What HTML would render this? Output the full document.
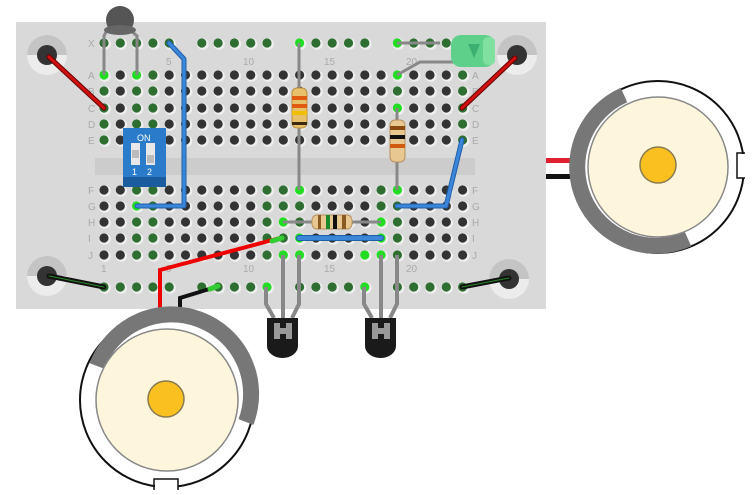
<!DOCTYPE html>
<html><head><meta charset="utf-8"><style>
html,body{margin:0;padding:0;background:#fff;width:756px;height:495px;overflow:hidden}
svg{display:block}
text{font-family:"Liberation Sans",sans-serif;fill:#aaa;font-size:10px}
</style></head><body>
<svg id="s" width="756" height="495" viewBox="0 0 756 495" xmlns="http://www.w3.org/2000/svg">
<rect x="16" y="22" width="530" height="287" fill="#d9d9d9"/>
<rect x="95" y="158" width="380" height="17" fill="#cccccc"/>
<g id="dots"></g>
<g>
<text x="88" y="47">X</text>
<text x="88" y="79">A</text><text x="88" y="95">B</text><text x="88" y="112">C</text><text x="88" y="128">D</text><text x="88" y="144">E</text>
<text x="88" y="194">F</text><text x="88" y="210">G</text><text x="88" y="226">H</text><text x="88" y="242">I</text><text x="88" y="259">J</text>
<text x="472" y="79">A</text><text x="472" y="95">B</text><text x="472" y="112">C</text><text x="472" y="128">D</text><text x="472" y="144">E</text>
<text x="472" y="194">F</text><text x="472" y="210">G</text><text x="472" y="226">H</text><text x="472" y="242">I</text><text x="472" y="259">J</text>
<text x="166" y="65">5</text><text x="243" y="65">10</text><text x="324" y="65">15</text><text x="406" y="65">20</text>
<text x="101" y="272">1</text><text x="166" y="272">5</text><text x="243" y="272">10</text><text x="324" y="272">15</text><text x="406" y="272">20</text>
</g>
<g>
<circle cx="47" cy="55" r="20" fill="#ececec"/><path d="M27 55 A20 20 0 0 1 67 55Z" fill="#c4c4c4"/><circle cx="47" cy="55" r="10" fill="#333"/>
<circle cx="47" cy="276" r="20" fill="#ececec"/><path d="M27 276 A20 20 0 0 1 67 276Z" fill="#c4c4c4"/><circle cx="47" cy="276" r="10" fill="#333"/>
<circle cx="517" cy="55" r="20" fill="#ececec"/><path d="M497 55 A20 20 0 0 1 537 55Z" fill="#c4c4c4"/><circle cx="517" cy="55" r="10" fill="#333"/>
<circle cx="509" cy="279" r="20" fill="#ececec"/><path d="M489 279 A20 20 0 0 1 529 279Z" fill="#c4c4c4"/><circle cx="509" cy="279" r="10" fill="#333"/>
</g>
<g stroke-linecap="round" fill="none">
<line x1="49" y1="57" x2="104" y2="108" stroke="#600" stroke-width="5"/><line x1="49" y1="57" x2="104" y2="108" stroke="#d01010" stroke-width="3"/>
<line x1="515" y1="58" x2="462" y2="108" stroke="#600" stroke-width="5"/><line x1="515" y1="58" x2="462" y2="108" stroke="#d01010" stroke-width="3"/>
<line x1="49" y1="276" x2="104" y2="287" stroke="#111" stroke-width="5"/><line x1="49" y1="276" x2="104" y2="287" stroke="#2a8a2a" stroke-width="1"/>
<line x1="509" y1="278" x2="462" y2="287" stroke="#111" stroke-width="5"/><line x1="509" y1="278" x2="462" y2="287" stroke="#2a8a2a" stroke-width="1"/>
<polyline points="169,43 184,59 184,206 137,206" stroke="#1f5faa" stroke-width="5" stroke-linejoin="round"/>
<polyline points="169,43 184,59 184,206 137,206" stroke="#3c86da" stroke-width="3" stroke-linejoin="round"/>
<polyline points="462,140 446,206 397,206" stroke="#1f5faa" stroke-width="5" stroke-linejoin="round"/>
<polyline points="462,140 446,206 397,206" stroke="#3c86da" stroke-width="3" stroke-linejoin="round"/>
<line x1="299" y1="238" x2="381" y2="238" stroke="#1f5faa" stroke-width="6"/><line x1="299" y1="238" x2="381" y2="238" stroke="#3c86da" stroke-width="4"/>
</g>
<g stroke="#888" stroke-width="3" fill="none">
<path d="M107 30 L104 36 L104 75"/><path d="M130 30 L137 36 L137 75"/>
</g>
<ellipse cx="120" cy="20" rx="14" ry="14" fill="#555"/><ellipse cx="120" cy="30" rx="16" ry="5" fill="#666"/>
<rect x="123" y="128" width="43" height="59" fill="#2a7bc9"/>
<rect x="123" y="177" width="43" height="10" fill="#1b5c9e"/>
<text x="137" y="141" style="fill:#fff;font-size:9px">ON</text>
<rect x="131" y="143" width="9" height="22" fill="#e8e8e8"/><rect x="132" y="150" width="7" height="8" fill="#bbb"/>
<rect x="146" y="143" width="9" height="22" fill="#e8e8e8"/><rect x="147" y="155" width="7" height="8" fill="#bbb"/>
<text x="132" y="175" style="fill:#fff;font-size:9px">1</text><text x="147" y="175" style="fill:#fff;font-size:9px">2</text>
<g stroke="#888" stroke-width="3">
<line x1="299" y1="43" x2="299" y2="190"/>
<line x1="397" y1="108" x2="397" y2="190"/>
<line x1="283" y1="222" x2="381" y2="222"/>
<line x1="397" y1="43" x2="440" y2="43"/>
<polyline points="397,75 420,62 460,62" fill="none"/>
</g>
<rect x="292" y="88" width="15" height="40" rx="5" fill="#e8c06a" stroke="#b89040"/>
<rect x="292" y="96" width="15" height="4" fill="#e05a10"/><rect x="292" y="104" width="15" height="4" fill="#e05a10"/><rect x="292" y="111" width="15" height="4" fill="#f0c000"/><rect x="292" y="122" width="15" height="3" fill="#3a2a10"/>
<rect x="390" y="120" width="15" height="42" rx="5" fill="#e8c890" stroke="#b89060"/>
<rect x="390" y="126" width="15" height="4" fill="#8a4a10"/><rect x="390" y="135" width="15" height="4" fill="#111"/><rect x="390" y="144" width="15" height="4" fill="#d05a10"/>
<rect x="312" y="215" width="40" height="14" rx="5" fill="#e8c890" stroke="#b89060"/>
<rect x="318" y="215" width="3" height="14" fill="#8a5a20"/><rect x="326" y="215" width="4" height="14" fill="#1a8a2a"/><rect x="333" y="215" width="4" height="14" fill="#111"/><rect x="342" y="215" width="4" height="14" fill="#8a5a20"/>
<rect x="451" y="35" width="44" height="32" rx="10" fill="#5fd08a"/>
<rect x="483" y="37" width="12" height="28" rx="5" fill="#7fe0a0"/>
<path d="M468 44 L480 44 L474 58Z" fill="#3cb070"/>
<g stroke="#888" stroke-width="4" fill="none" stroke-linejoin="round">
<polyline points="266,287 266,304 274,318"/><line x1="283" y1="255" x2="283" y2="322"/><polyline points="299,255 299,304 292,318"/>
<polyline points="364,287 364,304 372,318"/><line x1="381" y1="255" x2="381" y2="322"/><polyline points="397,255 397,304 390,318"/>
</g>
<path d="M267 318 H298 V346 A15.5 12 0 0 1 267 346Z" fill="#1a1a1a"/><rect x="274" y="323" width="18" height="16" fill="#999"/><path d="M280 323v5h6v-5M280 339v-5h6v5" fill="#1a1a1a"/>
<path d="M365 318 H396 V346 A15.5 12 0 0 1 365 346Z" fill="#1a1a1a"/><rect x="372" y="323" width="18" height="16" fill="#999"/><path d="M378 323v5h6v-5M378 339v-5h6v5" fill="#1a1a1a"/>
<polyline points="280,238 160,270 160,315" fill="none" stroke="#e00" stroke-width="4"/>
<polyline points="216,287 180,298 180,315" fill="none" stroke="#111" stroke-width="4"/>
<line x1="210" y1="289" x2="218" y2="286" stroke="#3c3" stroke-width="5" stroke-linecap="round"/>
<line x1="272" y1="241" x2="282" y2="238" stroke="#3c3" stroke-width="5" stroke-linecap="round"/>
<circle cx="167" cy="400" r="87" fill="#fff" stroke="#111" stroke-width="2"/>
<path d="M97 366 A78 78 0 0 1 246 422" fill="none" stroke="#777" stroke-width="16"/>
<rect x="155" y="478" width="23" height="12" fill="#fff"/>
<path d="M154 490 V479 H178 V490" fill="none" stroke="#111" stroke-width="1.5"/>
<circle cx="167" cy="400" r="71" fill="#fdf6dc" stroke="#888" stroke-width="1.5"/>
<circle cx="166" cy="399" r="18" fill="#f9c020" stroke="#8a7a50" stroke-width="1.5"/>
<rect x="546" y="158" width="28" height="5" fill="#e02030"/>
<rect x="546" y="174" width="28" height="5" fill="#111"/>
<circle cx="658" cy="167" r="86" fill="#fff" stroke="#111" stroke-width="2"/>
<path d="M624 95 A78 78 0 0 0 688 239" fill="none" stroke="#777" stroke-width="16"/>
<rect x="737" y="154" width="12" height="24" fill="#fff"/>
<path d="M745 153 H737 V178 H745" fill="none" stroke="#111" stroke-width="1.5"/>
<circle cx="658" cy="167" r="70" fill="#fdf6dc" stroke="#888" stroke-width="1.5"/>
<circle cx="658" cy="165" r="18" fill="#f9c020" stroke="#8a7a50" stroke-width="1.5"/>
</svg>
<script>
(function(){
var g=document.getElementById('dots'),ns='http://www.w3.org/2000/svg';
function cx(c){return 104+16.3*(c-1);}
function dot(x,y,f){var r=document.createElementNS(ns,'circle');r.setAttribute('cx',x);r.setAttribute('cy',y);r.setAttribute('r',4.6);r.setAttribute('fill',f);
var h=document.createElementNS(ns,'circle');h.setAttribute('cx',x+1);h.setAttribute('cy',y+1);h.setAttribute('r',5.8);h.setAttribute('fill','#efefef');g.appendChild(h);g.appendChild(r);}
var rails=[1,2,3,4,5,7,8,9,10,11,13,14,15,16,17,19,20,21,22,23];
rails.forEach(function(c){dot(cx(c),43,'#2e6e30');dot(cx(c),287,'#2e6e30');});
var top=[75,91,108,124,140],bot=[190,206,222,238,255];
var gt=[1,3,4,19,23],gb=[3,4,11,12,13,18,19];
for(var c=1;c<=23;c++){
 top.forEach(function(y){dot(cx(c),y,gt.indexOf(c)>=0?'#2e6e30':'#333');});
 bot.forEach(function(y){dot(cx(c),y,gb.indexOf(c)>=0?'#2e6e30':'#333');});
}
var hi=[[1,75],[3,75],[13,43],[19,43],[19,75],[19,108],[13,190],[19,190],[12,222],[18,222],[13,238],[18,238],[12,255],[13,255],[17,255],[18,255],[11,287],[17,287],[3,206]];
hi.forEach(function(p){dot(cx(p[0]),p[1],'#22dd22');});
})();
</script>
</body></html>
